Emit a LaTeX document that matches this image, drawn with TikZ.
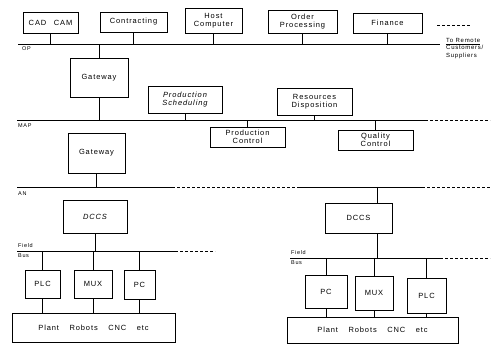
\documentclass[tikz,border=0pt]{standalone}
\usepackage{fontspec}
\setmainfont{Liberation Sans}[LetterSpace=12]
\begin{document}
\begin{tikzpicture}[x=1pt,y=-1pt,
  box/.style={draw,line width=0.8pt,inner sep=0pt,align=center,font=\fontsize{7.5}{8.5}\selectfont},
  lbl/.style={inner sep=0pt,anchor=west,font=\fontsize{5.5}{6}\selectfont},
  bus/.style={line width=0.8pt},
  ext/.style={line width=0.8pt,dashed,dash pattern=on 3pt off 2pt},
  conn/.style={line width=0.6pt}]
\useasboundingbox (0,0) rectangle (493,352);
% top row
\node[box,minimum width=55pt,minimum height=21pt] (cad) at (50.5,22.5) {CAD\quad CAM};
\node[box,minimum width=67pt,minimum height=20pt] (contr) at (133.5,22) {Contracting};
\node[box,minimum width=57pt,minimum height=25pt] (host) at (213.5,20.5) {Host\\Computer};
\node[box,minimum width=69pt,minimum height=23pt] (order) at (302.5,21.5) {Order\\Processing};
\node[box,minimum width=69pt,minimum height=20pt] (fin) at (387.5,23) {Finance};
\coordinate (topdA) at (437,25); \coordinate (topdB) at (470,25);
\draw[ext] (topdA) -- (topdB);
% OP bus
\coordinate (opL) at (18,44); \coordinate (opR) at (440,44);
\draw[bus] (opL) -- (opR);
\node[lbl] (oplbl) at (22,49) {OP};
\node[lbl,align=left,anchor=north west,font=\fontsize{6}{7.5}\selectfont] (remote) at (446,38) {\underline{To Remote}\\Customers/\\Suppliers};
\foreach \n in {cad,contr,host,order,fin}{\draw[conn] (\n.south) -- (\n.south |- opL);}
% gateway 1
\node[box,minimum width=58pt,minimum height=39pt] (gw1) at (99,77.5) {Gateway};
\draw[conn] (gw1.north) -- (gw1.north |- opL);
\node[box,minimum width=74pt,minimum height=27pt,font=\fontsize{7.5}{8.5}\selectfont\itshape] (ps) at (185,99.5) {Production\\Scheduling};
\node[box,minimum width=75pt,minimum height=27pt] (rd) at (314.5,101.5) {Resources\\Disposition};
% MAP bus
\coordinate (mapL) at (17,120); \coordinate (mapM) at (425,120); \coordinate (mapR) at (490,120);
\draw[bus] (mapL) -- (mapM);
\draw[ext] (mapM) -- (mapR);
\node[lbl] (maplbl) at (18,126) {MAP};
\draw[conn] (gw1.south) -- (gw1.south |- mapL);
\draw[conn] (ps.south) -- (ps.south |- mapL);
\draw[conn] (rd.south) -- (rd.south |- mapL);
\node[box,minimum width=75pt,minimum height=20pt] (pctl) at (247.5,137) {Production\\Control};
\node[box,minimum width=75pt,minimum height=20pt] (qc) at (375.5,140) {Quality\\Control};
\draw[conn] (pctl.north) -- (pctl.north |- mapL);
\draw[conn] (qc.north) -- (qc.north |- mapL);
\node[box,minimum width=57pt,minimum height=40pt] (gw2) at (96.5,153) {Gateway};
% LAN bus
\coordinate (lanA) at (17,187); \coordinate (lanB) at (172,187);
\coordinate (lanC) at (297,187); \coordinate (lanD) at (422,187); \coordinate (lanE) at (490,187);
\draw[bus] (lanA) -- (lanB);
\draw[ext] (lanB) -- (lanC);
\draw[bus] (lanC) -- (lanD);
\draw[ext] (lanD) -- (lanE);
\node[lbl] (lanlbl) at (18,194) {AN};
\draw[conn] (gw2.south) -- (gw2.south |- lanA);
% left cell
\node[box,minimum width=64pt,minimum height=33pt,font=\fontsize{7.5}{8.5}\selectfont\itshape] (dccs1) at (95,216.5) {DCCS};
\coordinate (fbL) at (17,251); \coordinate (fbM) at (175,251); \coordinate (fbR) at (215,251);
\draw[bus] (fbL) -- (fbM);
\draw[ext] (fbM) -- (fbR);
\node[lbl] (fb1a) at (18,246) {Field};
\node[lbl] (fb1b) at (18,256) {Bus};
\draw[conn] (dccs1.south) -- (dccs1.south |- fbL);
\node[box,minimum width=35pt,minimum height=28pt] (plc1) at (42.5,284) {PLC};
\node[box,minimum width=38pt,minimum height=28pt] (mux1) at (93,284) {MUX};
\node[box,minimum width=31pt,minimum height=29pt] (pc1) at (139.5,284.5) {PC};
\node[box,minimum width=163pt,minimum height=29pt] (plant1) at (93.5,327.5) {Plant\quad\ Robots\quad\ CNC\quad\ etc};
\foreach \n in {plc1,mux1,pc1}{
  \draw[conn] (\n.north) -- (\n.north |- fbL);
  \draw[conn] (\n.south) -- (\n.south |- plant1.north);}
% right cell
\node[box,minimum width=67pt,minimum height=30pt] (dccs2) at (358.5,218) {DCCS};
\coordinate (lanTap) at (377,187);
\draw[conn] (lanTap) -- (lanTap |- dccs2.north);
\coordinate (fb2L) at (290,258); \coordinate (fb2M) at (440,258); \coordinate (fb2R) at (490,258);
\draw[bus] (fb2L) -- (fb2M);
\draw[ext] (fb2M) -- (fb2R);
\node[lbl] (fb2a) at (291,253) {Field};
\node[lbl] (fb2b) at (291,263) {Bus};
\coordinate (fb2Tap) at (377,258);
\draw[conn] (fb2Tap |- dccs2.south) -- (fb2Tap);
\node[box,minimum width=42pt,minimum height=33pt] (pc2) at (326,291.5) {PC};
\node[box,minimum width=38pt,minimum height=34pt] (mux2) at (374,293) {MUX};
\node[box,minimum width=39pt,minimum height=35pt] (plc2) at (426.5,295.5) {PLC};
\node[box,minimum width=171pt,minimum height=26pt] (plant2) at (372.5,330) {Plant\quad\ Robots\quad\ CNC\quad\ etc};
\foreach \n in {pc2,mux2,plc2}{
  \draw[conn] (\n.north) -- (\n.north |- fb2L);
  \draw[conn] (\n.south) -- (\n.south |- plant2.north);}
\end{tikzpicture}
\end{document}
